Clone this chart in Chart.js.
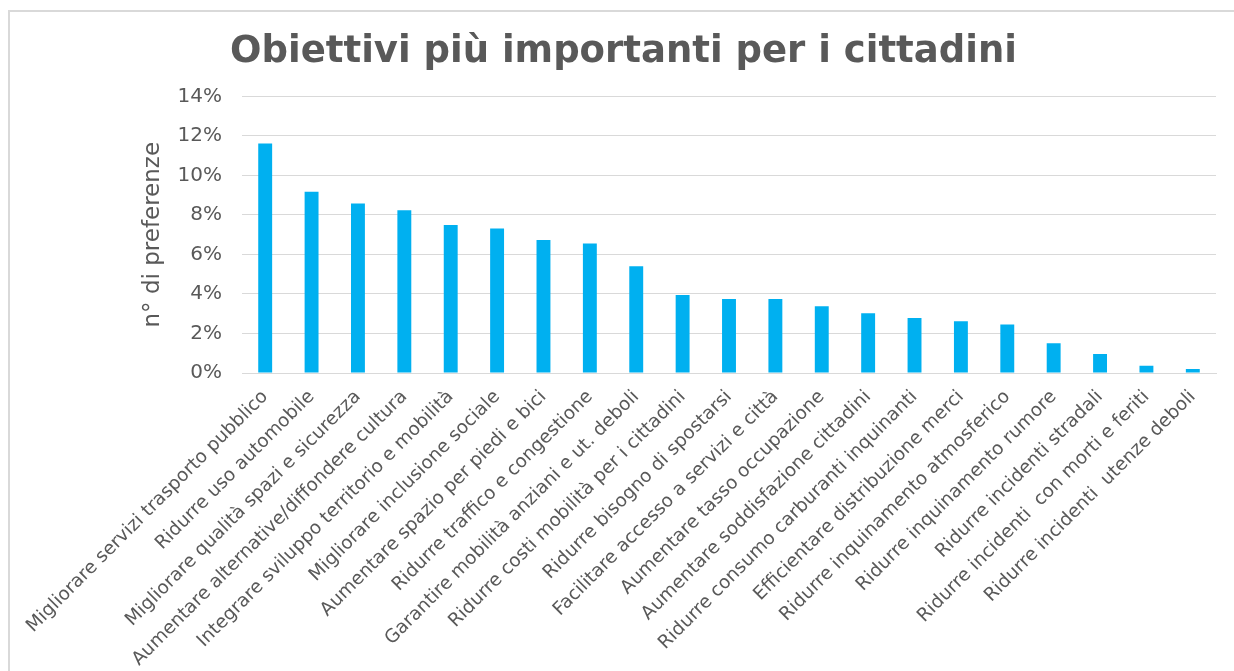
<!DOCTYPE html>
<html>
<head>
<meta charset="utf-8">
<script src="https://cdn.jsdelivr.net/npm/chart.js@4.4.1/dist/chart.umd.min.js"></script>
<style>
  html, body { margin: 0; padding: 0; background: #fff; }
  #wrap { position: relative; width: 1234px; height: 671px; overflow: hidden; }
  #frame { position: absolute; left: 8px; top: 10px; width: 1240px; height: 700px; border: 2px solid #d9d9d9; box-sizing: border-box; }
  canvas { position: absolute; left: 0; top: 0; }
</style>
</head>
<body>
<div id="wrap">
  <div id="frame"></div>
  <canvas id="c" width="1234" height="671"></canvas>
</div>
<script>
const categories = [
  "Migliorare servizi trasporto pubblico",
  "Ridurre uso automobile",
  "Migliorare qualità spazi e sicurezza",
  "Aumentare alternative/diffondere cultura",
  "Integrare sviluppo territorio e mobilità",
  "Migliorare inclusione sociale",
  "Aumentare spazio per piedi e bici",
  "Ridurre traffico e congestione",
  "Garantire mobilità anziani e ut. deboli",
  "Ridurre costi mobilità per i cittadini",
  "Ridurre bisogno di spostarsi",
  "Facilitare accesso a servizi e città",
  "Aumentare tasso occupazione",
  "Aumentare soddisfazione cittadini",
  "Ridurre consumo carburanti inquinanti",
  "Efficientare distribuzione merci",
  "Ridurre inquinamento atmosferico",
  "Ridurre inquinamento rumore",
  "Ridurre incidenti stradali",
  "Ridurre incidenti  con morti e feriti",
  "Ridurre incidenti  utenze deboli"
];
const preferenze = [
  0.1161, 0.0917, 0.0858, 0.0824, 0.0749, 0.0732, 0.0673, 0.0656, 0.0540,
  0.0395, 0.0374, 0.0374, 0.0338, 0.0303, 0.0279, 0.0262, 0.0246,
  0.0151, 0.0096, 0.0037, 0.0020
];
const yTicks = [0, 0.02, 0.04, 0.06, 0.08, 0.10, 0.12, 0.14];
const titleText = "Obiettivi più importanti per i cittadini";
const yAxisTitle = "n° di preferenze";

const textColor = "#595959";
const gridColor = "#d9d9d9";
const font = "'DejaVu Sans', Verdana, sans-serif";

new Chart(document.getElementById("c"), {
  type: "bar",
  data: {
    labels: categories,
    datasets: [{
      data: preferenze,
      backgroundColor: "#00B0F0",
      borderWidth: 0,
      barPercentage: 0.3,
      categoryPercentage: 1.0
    }]
  },
  options: {
    responsive: false,
    animation: false,
    events: [],
    layout: { padding: { left: 31, right: 18, top: 0, bottom: 0 } },
    plugins: {
      legend: { display: false },
      tooltip: { enabled: false },
      title: {
        display: true,
        text: titleText,
        color: textColor,
        font: { family: font, size: 37, weight: "bold", lineHeight: 1.2 },
        padding: { top: 30, bottom: 22 }
      }
    },
    scales: {
      x: {
        grid: { display: false, drawTicks: false },
        border: { display: true, color: gridColor, width: 1 },
        ticks: {
          autoSkip: false,
          minRotation: 45,
          maxRotation: 45,
          padding: 13,
          color: textColor,
          font: { family: font, size: 18.5 }
        },
        afterFit: (s) => { s.height = 671 - 373; }
      },
      y: {
        min: 0,
        max: 0.14,
        afterBuildTicks: (s) => { s.ticks = yTicks.map(v => ({ value: v })); },
        grid: { color: gridColor, lineWidth: 1, drawTicks: false },
        border: { display: false },
        ticks: {
          padding: 20,
          color: textColor,
          font: { family: font, size: 20 },
          callback: (v) => Math.round(v * 100) + "%"
        },
        title: {
          display: true,
          text: yAxisTitle,
          color: textColor,
          font: { family: font, size: 23 },
          padding: { top: 108, bottom: 0 }
        },
        afterFit: (s) => { s.width = 211; }
      }
    }
  }
});
</script>
</body>
</html>
